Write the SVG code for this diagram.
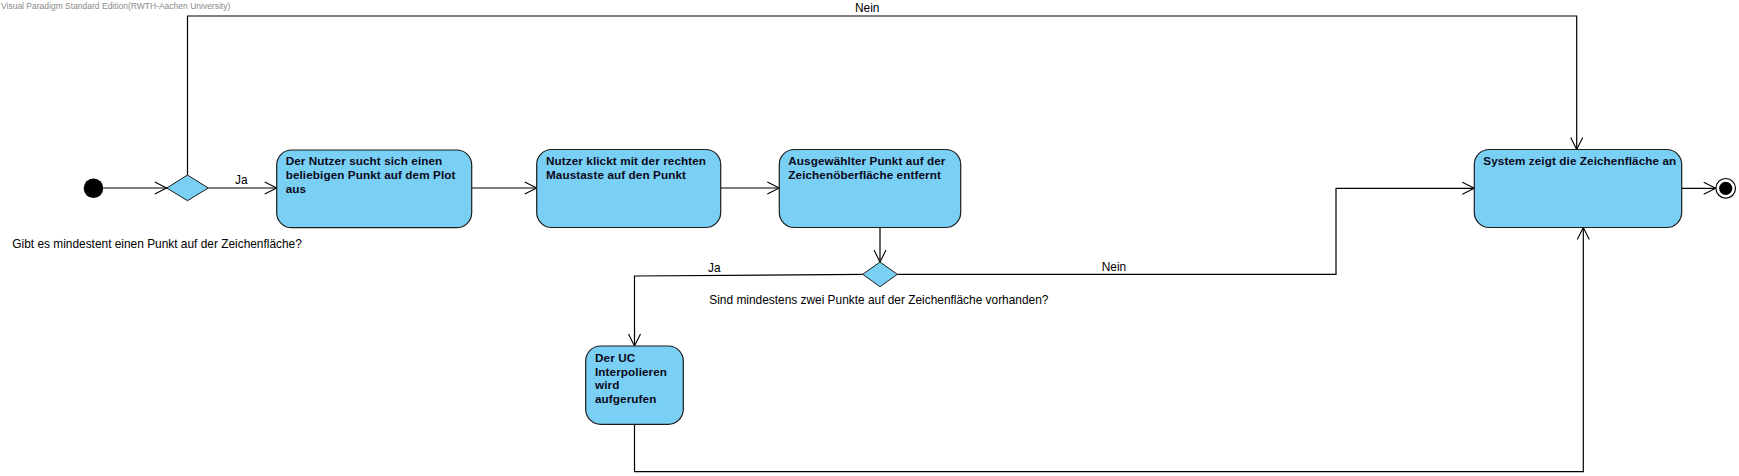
<svg xmlns="http://www.w3.org/2000/svg" width="1739" height="476" viewBox="0 0 1739 476">
<style>
.bg{fill:#ffffff}
.act{fill:#7ACFF5;stroke:#1c1c1c;stroke-width:1.2}
.dec{fill:#7ACFF5;stroke:#1c1c1c;stroke-width:1}
.nt{font-family:"Liberation Sans",Arial,sans-serif;font-weight:bold;font-size:11.7px;letter-spacing:0.1px;fill:#0a0a1a}
.lb{font-family:"Liberation Sans",Arial,sans-serif;font-size:11.9px;fill:#000}
.wm{font-family:"Liberation Sans",Arial,sans-serif;font-size:8.5px;fill:#8a8a8a}
.edge{fill:none;stroke:#000;stroke-width:1.2}
</style>
<defs>
<marker id="arr" markerUnits="userSpaceOnUse" markerWidth="16" markerHeight="16" viewBox="-14 -8 16 16" refX="0" refY="0" orient="auto">
<path d="M-12,-6 L0,0 L-12,6" fill="none" stroke="#000" stroke-width="1.1"/>
</marker>
</defs>
<rect class="bg" x="0" y="0" width="1739" height="476"/>
<text class="wm" x="1" y="9">Visual Paradigm Standard Edition(RWTH-Aachen University)</text>

<g id="connectors">
<line class="edge" x1="103.5" y1="188" x2="166.7" y2="188" marker-end="url(#arr)"/>
<line class="edge" x1="208.3" y1="188" x2="276.7" y2="188" marker-end="url(#arr)"/>
<text class="lb" x="235" y="184">Ja</text>
<polyline class="edge" points="187.5,175 187.5,16 1576.7,16 1576.7,149.5" marker-end="url(#arr)"/>
<text class="lb" x="855" y="12.3">Nein</text>
<line class="edge" x1="471.7" y1="188" x2="536.7" y2="188" marker-end="url(#arr)"/>
<line class="edge" x1="720.7" y1="188" x2="779.3" y2="188" marker-end="url(#arr)"/>
<line class="edge" x1="880" y1="227.5" x2="880" y2="262" marker-end="url(#arr)"/>
<polyline class="edge" points="862.7,274.3 634.5,276 634.5,346" marker-end="url(#arr)"/>
<text class="lb" x="708" y="271.5">Ja</text>
<polyline class="edge" points="897.3,274.3 1336,274.3 1336,188.3 1474.3,188.3" marker-end="url(#arr)"/>
<text class="lb" x="1101.7" y="270.7">Nein</text>
<polyline class="edge" points="634.5,424.3 634.5,471.7 1583.3,471.7 1583.3,227.5" marker-end="url(#arr)"/>
<line class="edge" x1="1681.7" y1="188.3" x2="1715.7" y2="188.3" marker-end="url(#arr)"/>
</g>

<g id="start">
<circle cx="93.5" cy="188.2" r="9.8" fill="#000"/>
</g>

<g id="decision1">
<polygon class="dec" points="166.7,188 187.5,175 208.3,188 187.5,200.7"/>
<text class="lb" x="12.3" y="248.3">Gibt es mindestent einen Punkt auf der Zeichenfläche?</text>
</g>

<g id="n1">
<rect class="act" x="276.7" y="150" width="195" height="77.7" rx="15" ry="15"/>
<text class="nt" x="285.7" y="165">Der Nutzer sucht sich einen</text>
<text class="nt" x="285.7" y="179">beliebigen Punkt auf dem Plot</text>
<text class="nt" x="285.7" y="193">aus</text>
</g>

<g id="n2">
<rect class="act" x="536.7" y="149.5" width="184" height="78" rx="15" ry="15"/>
<text class="nt" x="546" y="165">Nutzer klickt mit der rechten</text>
<text class="nt" x="546" y="178.5">Maustaste auf den Punkt</text>
</g>

<g id="n3">
<rect class="act" x="779.3" y="149.5" width="181.4" height="78" rx="15" ry="15"/>
<text class="nt" x="788.3" y="165">Ausgewählter Punkt auf der</text>
<text class="nt" x="788.3" y="178.5">Zeichenöberfläche entfernt</text>
</g>

<g id="decision2">
<polygon class="dec" points="862.7,274.3 880,262 897.3,274.3 880,286.7"/>
<text class="lb" x="709.3" y="303.5">Sind mindestens zwei Punkte auf der Zeichenfläche vorhanden?</text>
</g>

<g id="n4">
<rect class="act" x="585.7" y="346" width="97.6" height="78.3" rx="15" ry="15"/>
<text class="nt" x="595" y="361.7">Der UC</text>
<text class="nt" x="595" y="375.5">Interpolieren</text>
<text class="nt" x="595" y="389.3">wird</text>
<text class="nt" x="595" y="403">aufgerufen</text>
</g>

<g id="n5">
<rect class="act" x="1474.3" y="149.5" width="207.4" height="78" rx="15" ry="15"/>
<text class="nt" x="1483.3" y="164.5">System zeigt die Zeichenfläche an</text>
</g>

<g id="final">
<circle cx="1725.7" cy="188.3" r="9.8" fill="#fff" stroke="#000" stroke-width="1.2"/>
<circle cx="1725.7" cy="188.3" r="6.6" fill="#000"/>
</g>
</svg>
